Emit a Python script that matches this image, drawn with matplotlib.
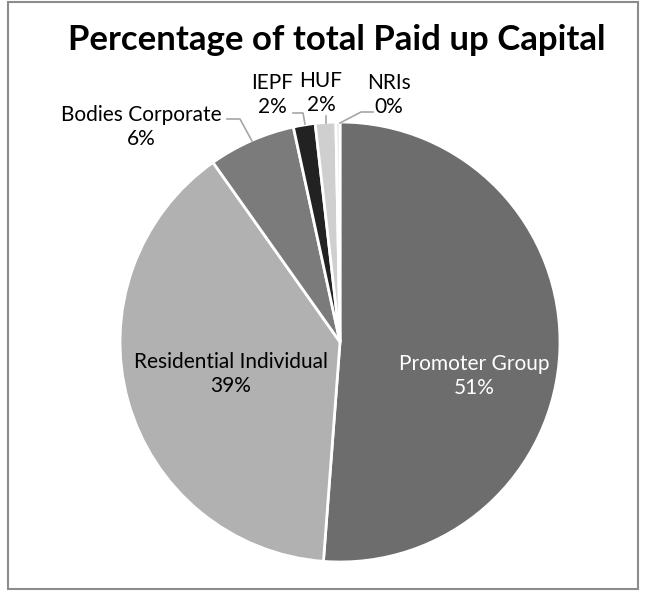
import matplotlib
matplotlib.use('Agg')
import matplotlib.pyplot as plt
from matplotlib.patches import Rectangle

# data
categories = ['Promoter Group', 'Residential Individual', 'Bodies Corporate', 'IEPF', 'HUF', 'NRIs']
shares = [51.2, 39.0, 6.4, 1.6, 1.5, 0.3]
colours = ['#6d6d6d', '#b1b1b1', '#7b7b7b', '#222222', '#cfcfcf', '#e4e4e4']

W, H = 646, 592
cx, cy, R = 340, 342, 220   # pie centre / radius in pixels


def px(x, y):
    # pixel position -> pie data coords
    return (x - cx) / R, (cy - y) / R


plt.rcParams['font.family'] = ['Lato', 'DejaVu Sans']

fig = plt.figure(figsize=(W / 100, H / 100), dpi=100)
fig.patches.append(Rectangle((8 / W, 3 / H), 630 / W, 587 / H, transform=fig.transFigure,
                             fill=False, edgecolor='#8c8c8c', linewidth=1.5))

ax = fig.add_axes([(cx - R) / W, (H - cy - R) / H, 2 * R / W, 2 * R / H])
ax.pie(shares, colors=colours, startangle=90, counterclock=False,
       wedgeprops=dict(edgecolor='white', linewidth=2))
ax.set_xlim(-1, 1)
ax.set_ylim(-1, 1)
ax.axis('off')

fig.text(337 / W, 1 - 40 / H, 'Percentage of total Paid up Capital', ha='center', va='center',
         fontsize=25, fontweight='bold')

pct = ['%d%%' % round(s) for s in shares]

# label block centres (pixels) and text colours
label_pos = [(474, 376), (231, 374), (141, 127), (272, 95), (321, 93), (389, 95)]
label_col = ['white', 'black', 'black', 'black', 'black', 'black']
for name, p, (lx, ly), c in zip(categories, pct, label_pos, label_col):
    x, y = px(lx, ly)
    ax.text(x, y, name + '\n' + p, ha='center', va='center', fontsize=15, color=c,
            linespacing=1.25)

# leader lines
leaders = [
    [(227, 119), (240, 119), (252, 141)],
    [(293, 113), (303, 113), (305, 124)],
    [(326, 116), (326, 123)],
    [(373, 112), (361, 112), (340, 123)],
]
for pts in leaders:
    xs, ys = zip(*[px(a, b) for a, b in pts])
    ax.plot(xs, ys, color='#a6a6a6', linewidth=1.2, clip_on=False)

plt.savefig('out.png', dpi=100)
